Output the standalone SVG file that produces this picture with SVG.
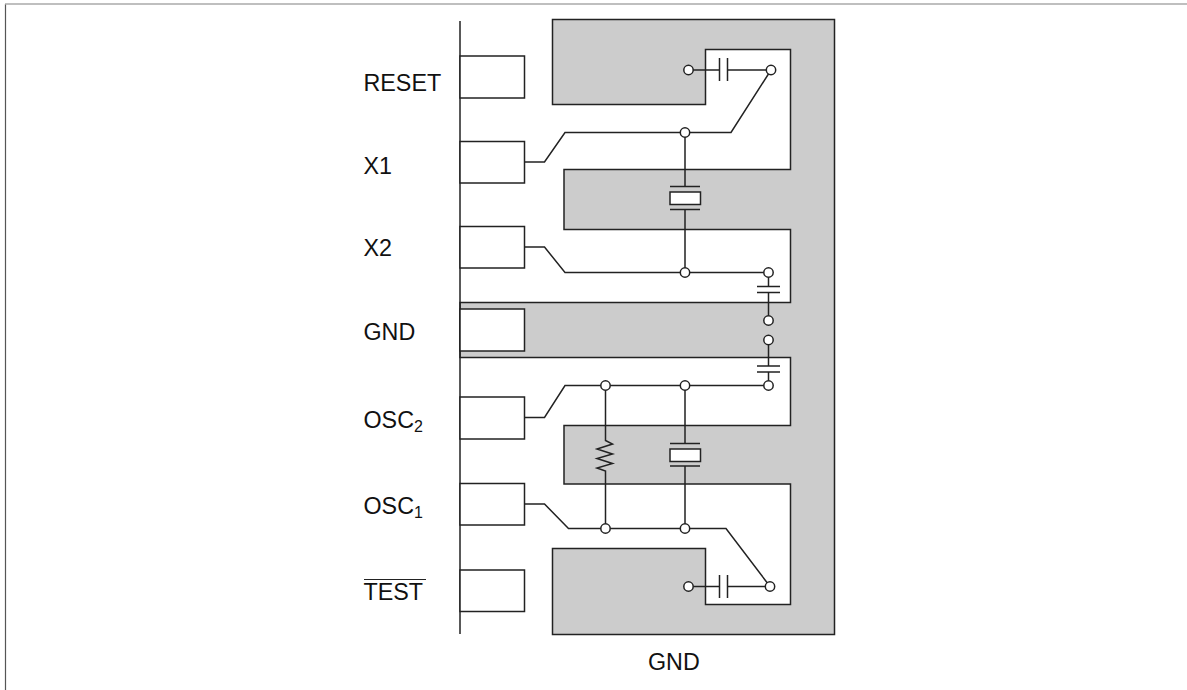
<svg xmlns="http://www.w3.org/2000/svg" width="1187" height="690" viewBox="0 0 1187 690">
<style>
.ln{fill:none;stroke:#222;stroke-width:1.5}
.pin{fill:#fff;stroke:#222;stroke-width:1.5}
.nd{fill:#fff;stroke:#222;stroke-width:1.5}
.plane{fill:#ccc;stroke:#222;stroke-width:1.5}
text{font-family:"Liberation Sans",Arial,sans-serif;font-size:23.3px;fill:#111}
.sub{font-size:16px}
</style>
<rect width="1187" height="690" fill="#fff"/>
<g id="frame"><line x1="5.5" y1="4" x2="5.5" y2="690" stroke="#555" stroke-width="1.2"/><line x1="5" y1="4" x2="1187" y2="4" stroke="#aaa" stroke-width="1.5"/></g>
<g id="ground-plane"><path class="plane" d="M552.5 19.5H834.5V634.5H552.5V548.5H705.5V604.5H790.5V484H564V425.5H790.5V357.5H460V302.5H790.5V229.5H564V169.5H790.5V49.5H705.5V104.5H552.5Z"/></g>
<line class="ln" x1="460" y1="21" x2="460" y2="634" stroke="#444"/>
<g id="pin-reset"><rect class="pin" x="460" y="56" width="64.5" height="42"/><text x="363.5" y="91">RESET</text></g>
<g id="pin-x1"><rect class="pin" x="460" y="141.5" width="64.5" height="41.5"/><text x="363.5" y="174">X1</text></g>
<g id="pin-x2"><rect class="pin" x="460" y="226.5" width="64.5" height="41.5"/><text x="363.5" y="256">X2</text></g>
<g id="pin-gnd"><rect class="pin" x="460" y="309" width="64.5" height="42"/><text x="363.5" y="340">GND</text></g>
<g id="pin-osc2"><rect class="pin" x="460" y="397" width="64.5" height="42"/><text x="363.5" y="428">OSC<tspan class="sub" dy="4">2</tspan></text></g>
<g id="pin-osc1"><rect class="pin" x="460" y="483.5" width="64.5" height="41.5"/><text x="363.5" y="514">OSC<tspan class="sub" dy="4">1</tspan></text></g>
<g id="pin-test"><rect class="pin" x="460" y="570" width="64.5" height="41.5"/><text x="363.5" y="600">TEST</text><line x1="364" y1="579.5" x2="426" y2="579.5" stroke="#222" stroke-width="1.2"/></g>
<g id="label-gnd"><text x="648" y="670.3">GND</text></g>
<g id="connectors">
<path class="ln" d="M524.5 162H544.5L565 132.5H731L771 70"/>
<path class="ln" d="M524.5 247H544.5L565 272.5H768.5V286.5M768.5 292.5V320.5"/>
<path class="ln" d="M768.5 340V366M768.5 372V385.5H565L544.5 417.5H524.5"/>
<path class="ln" d="M524.5 504H544.5L568.5 528.5H726L770 586.5"/>
<path class="ln" d="M688.5 70H719.5M727.5 70H771"/>
<path class="ln" d="M688.5 586.5H719.5M727.5 586.5H770"/>
<path class="ln" d="M719.5 58V81M727.5 58V81M719.5 575V598M727.5 575V598"/>
<path class="ln" d="M757 286.5H780M757 292.5H780M757 366H780M757 372H780"/>
<path class="ln" d="M685 132.5V186.5M670 186.5H700M670 209.5H700M685 209.5V272.5"/>
<path class="ln" d="M685 385.5V443.5M670 443.5H700M670 466H700M685 466V528.5"/>
<path class="ln" d="M605.5 385.5V440.5L612.5 444L597 449L612.5 454L597 458.5L612.5 463.5L597 468L605.5 471V528.5"/>
</g>
<g id="crystal-1"><rect class="pin" x="670" y="192" width="30.5" height="12.5"/></g>
<g id="crystal-2"><rect class="pin" x="670" y="449" width="30.5" height="12.5"/></g>
<g id="terminals">
<circle class="nd" cx="688.5" cy="70" r="4.7"/><circle class="nd" cx="771" cy="70" r="4.7"/>
<circle class="nd" cx="685" cy="132.5" r="4.7"/><circle class="nd" cx="685" cy="272.5" r="4.7"/>
<circle class="nd" cx="768.5" cy="272.5" r="4.7"/><circle class="nd" cx="768.5" cy="320.5" r="4.7"/>
<circle class="nd" cx="768.5" cy="340" r="4.7"/><circle class="nd" cx="768.5" cy="385.5" r="4.7"/>
<circle class="nd" cx="605.5" cy="385.5" r="4.7"/><circle class="nd" cx="685" cy="385.5" r="4.7"/>
<circle class="nd" cx="605.5" cy="528.5" r="4.7"/><circle class="nd" cx="685" cy="528.5" r="4.7"/>
<circle class="nd" cx="688.5" cy="586.5" r="4.7"/><circle class="nd" cx="770" cy="586.5" r="4.7"/>
</g>
</svg>
